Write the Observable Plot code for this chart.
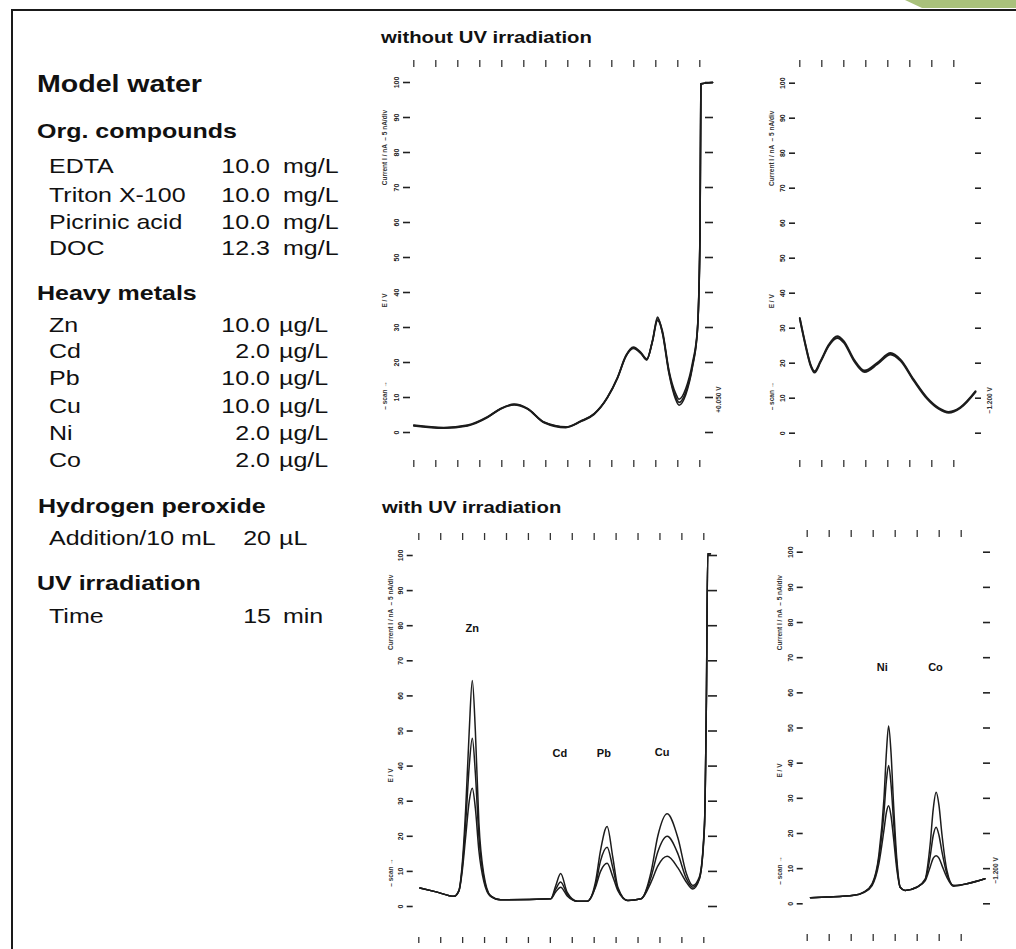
<!DOCTYPE html>
<html><head><meta charset="utf-8">
<script src="https://cdn.jsdelivr.net/npm/d3@7"></script>
<script src="https://cdn.jsdelivr.net/npm/@observablehq/plot@0.6"></script>
<style>
body{margin:0;background:#fff;}
#page{position:relative;width:1016px;height:949px;overflow:hidden;font-family:"Liberation Sans",Arial,Helvetica,sans-serif;}
#page > svg, #page > div{position:absolute;}
</style></head><body><div id="page"></div>
<script>
// ---------- text panel ----------
const orgNames = ["EDTA", "Triton X-100", "Picrinic acid", "DOC"];
const orgValues = ["10.0", "10.0", "10.0", "12.3"];
const orgUnit = "mg/L";
const metalNames = ["Zn", "Cd", "Pb", "Cu", "Ni", "Co"];
const metalValues = ["10.0", "2.0", "10.0", "10.0", "2.0", "2.0"];
const metalUnit = "\u00b5g/L";

// ---------- axes ----------
const xTicksWide = [0, 1, 2, 3, 4, 5, 6, 7, 8, 9, 10, 11, 12, 13];
const xTicksNarrow = [0, 1, 2, 3, 4, 5, 6, 7];
const yTicks = [0, 1, 2, 3, 4, 5, 6, 7, 8, 9, 10];
const yTickLabels = ["0", "10", "20", "30", "40", "50", "60", "70", "80", "90", "100"];

// ---------- without UV: Zn/Cd/Pb/Cu scan ----------
const noUvZnCuX  = [0, 1.36, 2.44, 3.35, 3.95, 4.56, 5.17, 5.92, 6.91, 7.59, 8.2, 8.8, 9.26, 9.64, 9.98, 10.32, 10.59, 10.85, 11.08, 11.3, 11.6, 11.9, 12.06, 12.36, 12.67, 12.89, 13.01, 13.05, 13.58];
const noUvZnCuY1 = [0.2, 0.13, 0.2, 0.44, 0.68, 0.8, 0.68, 0.29, 0.15, 0.32, 0.53, 1.01, 1.58, 2.2, 2.44, 2.29, 2.1, 2.63, 3.25, 2.91, 1.77, 1.12, 0.95, 1.25, 2.0, 2.95, 5.77, 9.96, 10.0];
const noUvZnCuY2 = [0.21, 0.14, 0.21, 0.45, 0.69, 0.81, 0.69, 0.3, 0.16, 0.33, 0.54, 1.0, 1.56, 2.18, 2.42, 2.27, 2.08, 2.6, 3.2, 2.86, 1.72, 1.02, 0.86, 1.15, 1.92, 2.9, 5.7, 9.96, 10.0];
const noUvZnCuY3 = [0.19, 0.12, 0.19, 0.43, 0.67, 0.79, 0.67, 0.28, 0.14, 0.31, 0.52, 0.99, 1.55, 2.17, 2.4, 2.26, 2.07, 2.62, 3.3, 2.84, 1.68, 0.95, 0.78, 1.08, 1.88, 2.88, 5.65, 9.96, 10.0];

// ---------- without UV: Ni/Co scan ----------
const noUvNiCoX  = [0, 0.26, 0.49, 0.67, 0.94, 1.32, 1.7, 2.0, 2.47, 2.95, 3.52, 4.13, 4.58, 5.18, 5.79, 6.32, 6.77, 7.3, 7.99];
const noUvNiCoY1 = [3.29, 2.53, 1.96, 1.77, 2.06, 2.53, 2.77, 2.63, 2.1, 1.79, 2.01, 2.29, 2.1, 1.53, 1.01, 0.72, 0.61, 0.74, 1.2];
const noUvNiCoY2 = [3.27, 2.5, 1.93, 1.73, 2.03, 2.5, 2.72, 2.59, 2.06, 1.75, 1.97, 2.25, 2.07, 1.5, 0.98, 0.69, 0.58, 0.72, 1.18];

// ---------- with UV: Zn/Cd/Pb/Cu scan ----------
const uvZnCuX  = [0.05, 0.84, 1.6, 1.83, 1.98, 2.14, 2.3, 2.44, 2.58, 2.74, 2.97, 3.27, 3.73, 6.02, 6.25, 6.47, 6.77, 7.23, 7.68, 8.06, 8.29, 8.59, 8.85, 9.08, 9.53, 10.14, 10.6, 10.9, 11.33, 11.82, 12.2, 12.5, 12.8, 13.03, 13.12, 13.18, 13.3];
const uvZnCuY1 = [0.53, 0.41, 0.29, 0.46, 1.2, 2.8, 5.0, 6.44, 5.0, 2.4, 0.9, 0.31, 0.19, 0.22, 0.6, 0.94, 0.4, 0.15, 0.15, 0.7, 1.6, 2.28, 1.4, 0.55, 0.17, 0.22, 1.0, 2.0, 2.64, 1.95, 0.95, 0.6, 0.85, 2.36, 6.0, 10.05, 10.05];
const uvZnCuY2 = [0.53, 0.41, 0.29, 0.45, 1.1, 2.4, 4.0, 4.79, 3.8, 2.0, 0.8, 0.3, 0.19, 0.22, 0.5, 0.7, 0.35, 0.15, 0.15, 0.6, 1.3, 1.69, 1.1, 0.5, 0.17, 0.22, 0.85, 1.55, 2.0, 1.5, 0.8, 0.55, 0.8, 2.3, 6.0, 10.05, 10.05];
const uvZnCuY3 = [0.53, 0.41, 0.29, 0.44, 1.0, 2.0, 3.0, 3.37, 2.8, 1.6, 0.7, 0.29, 0.19, 0.22, 0.42, 0.55, 0.3, 0.15, 0.15, 0.55, 1.0, 1.23, 0.85, 0.45, 0.17, 0.22, 0.7, 1.15, 1.43, 1.1, 0.7, 0.5, 0.78, 2.25, 6.0, 10.05, 10.05];

// ---------- with UV: Ni/Co scan ----------
const uvNiCoX  = [0.15, 0.9, 2.12, 2.57, 2.95, 3.26, 3.49, 3.6, 3.7, 3.81, 3.92, 4.07, 4.23, 4.45, 4.98, 5.36, 5.59, 5.73, 5.86, 5.99, 6.12, 6.35, 6.65, 7.26, 8.08];
const uvNiCoY1 = [0.17, 0.19, 0.24, 0.33, 0.57, 1.4, 3.0, 4.3, 5.06, 4.3, 2.9, 1.3, 0.47, 0.38, 0.47, 0.7, 1.7, 2.7, 3.17, 2.8, 2.0, 0.95, 0.52, 0.57, 0.71];
const uvNiCoY2 = [0.17, 0.19, 0.24, 0.33, 0.55, 1.3, 2.6, 3.5, 3.93, 3.4, 2.4, 1.15, 0.47, 0.38, 0.47, 0.68, 1.35, 1.95, 2.18, 1.95, 1.5, 0.85, 0.52, 0.57, 0.71];
const uvNiCoY3 = [0.17, 0.19, 0.24, 0.32, 0.52, 1.15, 2.1, 2.6, 2.79, 2.5, 1.9, 1.0, 0.46, 0.38, 0.47, 0.65, 1.05, 1.3, 1.37, 1.3, 1.1, 0.75, 0.5, 0.57, 0.71];

// ---------- peak labels ----------
const uvZnCuPeakNames = ["Zn", "Cd", "Pb", "Cu"];
const uvZnCuPeakX = [2.44, 6.43, 8.44, 11.1];
const uvZnCuPeakY = [7.92, 4.36, 4.36, 4.4];
const uvNiCoPeakNames = ["Ni", "Co"];
const uvNiCoPeakX = [3.41, 5.83];
const uvNiCoPeakY = [6.73, 6.73];

// axis-title fragments (rotated, mostly illegible in the scan)
const leftTitleTexts = ["Current I / nA  \u2013 5 nA/div", "E / V", "\u2013 scan \u2192"];

const page = document.getElementById("page");
const FONT = '"Liberation Sans", Arial, Helvetica, sans-serif';

// ---------- static overlay: frame, corner, text panel, titles ----------
function t(x, y, s, size, weight, anchor, sx) {
  return `<text transform="translate(${x},${y}) scale(${sx},1)" font-size="${size}" font-weight="${weight}" text-anchor="${anchor}" fill="#111">${s}</text>`;
}
let parts = [];
parts.push(`<polygon points="905,0 1016,0 1016,8 922,8" fill="#a9c17b"/>`);
parts.push(`<rect x="11" y="9" width="1005" height="2" fill="#1a1a1a"/>`);
parts.push(`<rect x="11" y="9" width="2" height="940" fill="#1a1a1a"/>`);
const S = 1.19;
parts.push(t(37, 92, "Model water", 24, "bold", "start", S));
parts.push(t(37, 138, "Org. compounds", 21, "bold", "start", S));
const orgBase = [173, 202, 229, 255];
orgNames.forEach((n, i) => {
  parts.push(t(49, orgBase[i], n, 21, "normal", "start", S));
  parts.push(t(270, orgBase[i], orgValues[i], 21, "normal", "end", S));
  parts.push(t(283, orgBase[i], orgUnit, 21, "normal", "start", S));
});
parts.push(t(37, 300, "Heavy metals", 21, "bold", "start", S));
const metBase = [332, 358, 385, 413, 440, 467];
metalNames.forEach((n, i) => {
  parts.push(t(49, metBase[i], n, 21, "normal", "start", S));
  parts.push(t(270, metBase[i], metalValues[i], 21, "normal", "end", S));
  parts.push(t(279, metBase[i], metalUnit, 21, "normal", "start", S));
});
parts.push(t(38, 513, "Hydrogen peroxide", 21, "bold", "start", S));
parts.push(t(49, 545, "Addition/10 mL", 21, "normal", "start", S));
parts.push(t(271, 545, "20", 21, "normal", "end", S));
parts.push(t(279, 545, "\u00b5L", 21, "normal", "start", S));
parts.push(t(37, 590, "UV irradiation", 21, "bold", "start", S));
parts.push(t(49, 623, "Time", 21, "normal", "start", S));
parts.push(t(271, 623, "15", 21, "normal", "end", S));
parts.push(t(283, 623, "min", 21, "normal", "start", S));
parts.push(t(381, 43, "without UV irradiation", 16, "bold", "start", 1.27));
parts.push(t(382, 513, "with UV irradiation", 16, "bold", "start", 1.27));
const overlay = `<svg width="1016" height="949" style="left:0;top:0;font-family:${FONT.replace(/"/g, "'")}" xmlns="http://www.w3.org/2000/svg">${parts.join("")}</svg>`;
page.insertAdjacentHTML("beforeend", overlay);

// ---------- chart panels ----------
function makePanel(cfg) {
  const yd = [0, 10];
  const {xd, xr, yr} = cfg;
  const ix = p => xd[0] + (p - xr[0]) * (xd[1] - xd[0]) / (xr[1] - xr[0]);
  const iy = p => yd[0] + (p - yr[0]) * (yd[1] - yd[0]) / (yr[1] - yr[0]);
  const rows = cfg.traces.flatMap((ys, k) => cfg.xs.map((x, i) => ({x, y: ys[i], trace: k})));
  const cols = cfg.colY.map((y, i) => ({y, s: leftTitleTexts[i]}));
  const marks = [
    Plot.ruleX(cfg.xTicks, {x: d => d, y1: iy(cfg.topTick[0]), y2: iy(cfg.topTick[1]), stroke: "#333", strokeWidth: 1.3}),
    Plot.ruleX(cfg.xTicks, {x: d => d, y1: iy(cfg.botTick[0]), y2: iy(cfg.botTick[1]), stroke: "#333", strokeWidth: 1.3}),
    Plot.ruleY(yTicks, {y: d => d, x1: ix(cfg.leftTick[0]), x2: ix(cfg.leftTick[1]), stroke: "#222", strokeWidth: 1.6}),
    Plot.ruleY(yTicks, {y: d => d, x1: ix(cfg.rightTick[0]), x2: ix(cfg.rightTick[1]), stroke: "#222", strokeWidth: 1.6}),
    Plot.text(yTicks, {x: ix(cfg.labX), y: d => d, text: (d, i) => yTickLabels[i], rotate: -90, fontSize: 7, fontWeight: "bold", fill: "#222"}),
    Plot.text(cols, {x: ix(cfg.colX), y: "y", text: "s", rotate: -90, fontSize: 6.5, fontWeight: "bold", fill: "#333"}),
    Plot.line(rows, {x: "x", y: "y", z: "trace", curve: "monotone-x", stroke: "#1c1c1c", strokeWidth: cfg.sw})
  ];
  if (cfg.rightLabel) {
    marks.push(Plot.text([cfg.rightLabel], {x: ix(cfg.rightLabel.px), y: cfg.rightLabel.y, text: d => d.s, rotate: -90, fontSize: 6.5, fontWeight: "bold", fill: "#333"}));
  }
  if (cfg.peaks) {
    marks.push(Plot.text(cfg.peaks.names, {x: (d, i) => cfg.peaks.x[i], y: (d, i) => cfg.peaks.y[i], text: d => d, fontSize: 11, fontWeight: "bold", fill: "#111"}));
  }
  const svg = Plot.plot({
    width: cfg.width, height: cfg.height, margin: 0,
    x: {domain: xd, range: xr, axis: null},
    y: {domain: yd, range: yr, axis: null},
    style: {fontFamily: FONT, background: "transparent", overflow: "visible"},
    marks
  });
  svg.style.left = cfg.left + "px";
  svg.style.top = cfg.top + "px";
  page.appendChild(svg);
}

makePanel({
  left: 360, top: 50, width: 370, height: 430,
  xd: [0, 13], xr: [53.3, 339.3], yr: [382, 32],
  xs: noUvZnCuX, traces: [noUvZnCuY1, noUvZnCuY2, noUvZnCuY3], xTicks: xTicksWide,
  topTick: [10, 17], botTick: [410, 417], leftTick: [43, 50], rightTick: [345, 353],
  labX: 36, colX: 24, colY: [8.14, 3.77, 1.06], sw: 1.6,
  rightLabel: {px: 358, y: 0.94, s: "+0.050 V"}
});
makePanel({
  left: 740, top: 50, width: 276, height: 430,
  xd: [0, 7], xr: [59.3, 213.3], yr: [382.7, 32.7],
  xs: noUvNiCoX, traces: [noUvNiCoY1, noUvNiCoY2], xTicks: xTicksNarrow,
  topTick: [10, 17], botTick: [410, 417], leftTick: [49, 55], rightTick: [235, 241],
  labX: 42, colX: 31, colY: [8.14, 3.77, 1.06], sw: 1.9,
  rightLabel: {px: 249, y: 0.94, s: "\u22121.200 V"}
});
makePanel({
  left: 360, top: 520, width: 370, height: 430,
  xd: [0, 13], xr: [58.3, 343.3], yr: [386, 35],
  xs: uvZnCuX, traces: [uvZnCuY1, uvZnCuY2, uvZnCuY3], xTicks: xTicksWide,
  topTick: [13, 20], botTick: [417, 423], leftTick: [46.7, 52.7], rightTick: [348, 357],
  labX: 40, colX: 30, colY: [8.38, 3.73, 0.97], sw: 1.5,
  peaks: {names: uvZnCuPeakNames, x: uvZnCuPeakX, y: uvZnCuPeakY}
});
makePanel({
  left: 740, top: 520, width: 276, height: 430,
  xd: [0, 7], xr: [66.7, 220.7], yr: [383.3, 31.7],
  xs: uvNiCoX, traces: [uvNiCoY1, uvNiCoY2, uvNiCoY3], xTicks: xTicksNarrow,
  topTick: [10, 17], botTick: [414, 421], leftTick: [56.7, 62.7], rightTick: [243, 250],
  labX: 50, colX: 39, colY: [8.28, 3.79, 0.95], sw: 1.5,
  peaks: {names: uvNiCoPeakNames, x: uvNiCoPeakX, y: uvNiCoPeakY},
  rightLabel: {px: 255, y: 0.95, s: "\u22121.200 V"}
});
</script></body></html>
